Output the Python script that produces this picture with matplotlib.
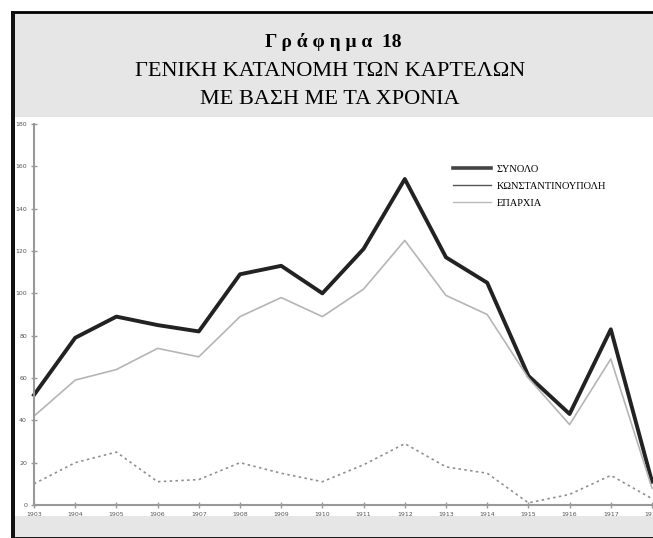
import matplotlib
matplotlib.use('Agg')
import matplotlib.pyplot as plt
from matplotlib.patches import Rectangle
from matplotlib.lines import Line2D

# data
years = ['1903', '1904', '1905', '1906', '1907', '1908', '1909', '1910',
         '1911', '1912', '1913', '1914', '1915', '1916', '1917', '1918']
synolo = [52, 79, 89, 85, 82, 109, 113, 100, 121, 154, 117, 105, 61, 43, 83, 11]
konst = [10, 20, 25, 11, 12, 20, 15, 11, 19, 29, 18, 15, 1, 5, 14, 3]
eparxia = [42, 59, 64, 74, 70, 89, 98, 89, 102, 125, 99, 90, 60, 38, 69, 8]
yticks = [0, 20, 40, 60, 80, 100, 120, 140, 160, 180]
labels = ['ΣΥΝΟΛΟ', 'ΚΩΝΣΤΑΝΤΙΝΟΥΠΟΛΗ', 'ΕΠΑΡΧΙΑ']

W, H = 653, 538
fig = plt.figure(figsize=(W / 100, H / 100), dpi=100)
fig.patch.set_facecolor('white')

# grey panel with black frame, white plot area inside (behind the axes)
fig.add_artist(Rectangle((12 / W, 0), 1, 1 - 12 / H, transform=fig.transFigure,
                         facecolor='#e6e6e6', edgecolor='black', lw=2, zorder=-3))
fig.add_artist(Rectangle((11 / W, 0), 4 / W, 1 - 11 / H, transform=fig.transFigure,
                         facecolor='#111111', edgecolor='none', zorder=-2))
fig.add_artist(Rectangle((15 / W, 1 - 516 / H), 1, (516 - 117) / H,
                         transform=fig.transFigure, facecolor='white',
                         edgecolor='none', zorder=-1))

fig.text(333 / W, 1 - 42 / H, 'Γ ρ ά φ η μ α  18', ha='center', va='center',
         family='Liberation Serif', fontsize=14, fontweight='bold')
fig.text(330 / W, 1 - 71 / H, 'ΓΕΝΙΚΗ ΚΑΤΑΝΟΜΗ ΤΩΝ ΚΑΡΤΕΛΩΝ', ha='center', va='center',
         family='Liberation Serif', fontsize=16)
fig.text(330 / W, 1 - 99 / H, 'ΜΕ ΒΑΣΗ ΜΕ ΤΑ ΧΡΟΝΙΑ', ha='center', va='center',
         family='Liberation Serif', fontsize=16)

ax = fig.add_axes([34 / W, 1 - 505 / H, (652 - 34) / W, (505 - 124) / H])
ax.patch.set_alpha(0)
x = list(range(len(years)))
ax.plot(x, synolo, color='#222222', lw=2.8, clip_on=False)
ax.plot(x, eparxia, color='#b5b5b5', lw=1.2, clip_on=False)
ax.plot(x, konst, color='#909090', lw=1.2, ls=(0, (1.5, 2)), clip_on=False)

ax.set_xlim(0, 15)
ax.set_ylim(0, 180)
ax.set_xticks(x)
ax.set_xticklabels(years)
ax.set_yticks(yticks)
for s in ['top', 'right']:
    ax.spines[s].set_visible(False)
for s in ['left', 'bottom']:
    ax.spines[s].set_color('#999999')
    ax.spines[s].set_linewidth(1.5)
ax.tick_params(direction='inout', length=4, width=1, color='#999999',
               labelsize=4.5, labelcolor='#555555', pad=3)

handles = [Line2D([], [], color='#444444', lw=2.6),
           Line2D([], [], color='#555555', lw=1.0),
           Line2D([], [], color='#bbbbbb', lw=1.0)]
ax.legend(handles, labels, loc='upper left', bbox_to_anchor=(444 / W, 1 - 155 / H),
          bbox_transform=fig.transFigure, frameon=False, handlelength=3.6,
          handletextpad=0.6, labelspacing=0.75,
          prop={'family': 'Liberation Serif', 'size': 7.5})

fig.savefig('out.png', dpi=100)
